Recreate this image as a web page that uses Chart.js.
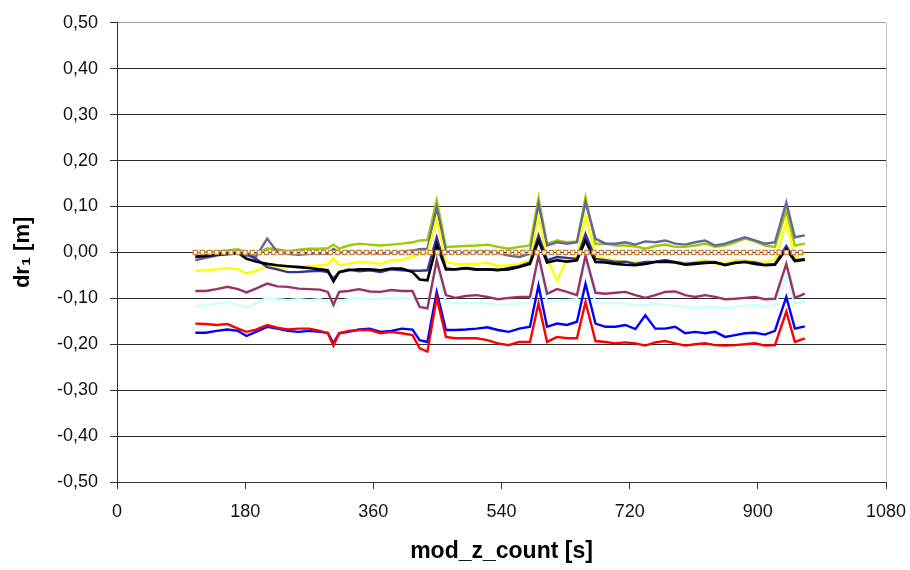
<!DOCTYPE html>
<html>
<head>
<meta charset="utf-8">
<title>dr1</title>
<script src="https://cdn.jsdelivr.net/npm/chart.js@4.4.1/dist/chart.umd.min.js"></script>
<style>
    body { margin: 0; background: #ffffff; }
    #wrap { width: 910px; height: 570px; }
</style>
</head>
<body>
<div id="wrap"><canvas id="myChart" width="910" height="570"></canvas></div>
<script>
const ctx = document.getElementById('myChart');

// time stamps [s]
const times = [110, 125, 140, 155, 170, 182, 195, 211, 225, 240, 255, 270, 285, 296, 304, 312, 325,
    340, 355, 370, 385, 400, 415, 425, 436, 449, 462, 475, 490, 505, 520, 535,
    550, 565, 580, 592, 604, 618, 632, 646, 658, 672, 686, 700, 714, 728, 742,
    756, 770, 784, 798, 812, 826, 840, 854, 868, 882, 896, 910, 924, 940, 952, 966];

const redVals = [-0.155, -0.156, -0.158, -0.156, -0.166, -0.173, -0.168, -0.158, -0.164, -0.168, -0.166, -0.166, -0.171, -0.176, -0.203, -0.176, -0.171,
    -0.169, -0.169, -0.176, -0.173, -0.176, -0.180, -0.209, -0.216, -0.099, -0.184, -0.187, -0.187, -0.187, -0.191, -0.198,
    -0.202, -0.195, -0.195, -0.111, -0.195, -0.184, -0.187, -0.187, -0.108, -0.193, -0.195, -0.198, -0.196, -0.198, -0.203,
    -0.196, -0.193, -0.198, -0.203, -0.200, -0.198, -0.202, -0.203, -0.202, -0.200, -0.198, -0.203, -0.202, -0.129, -0.195, -0.187];

const blueVals = [-0.175, -0.175, -0.171, -0.168, -0.171, -0.182, -0.173, -0.162, -0.166, -0.171, -0.173, -0.171, -0.173, -0.175, -0.198, -0.176, -0.173,
    -0.168, -0.166, -0.173, -0.171, -0.166, -0.168, -0.191, -0.195, -0.086, -0.169, -0.169, -0.168, -0.166, -0.163, -0.169,
    -0.173, -0.166, -0.162, -0.072, -0.162, -0.155, -0.158, -0.151, -0.068, -0.155, -0.162, -0.162, -0.158, -0.167, -0.137,
    -0.166, -0.166, -0.162, -0.176, -0.173, -0.176, -0.173, -0.184, -0.180, -0.176, -0.175, -0.179, -0.171, -0.097, -0.166, -0.161];

const cyanVals = [-0.119, -0.115, -0.111, -0.108, -0.115, -0.120, -0.111, -0.099, -0.102, -0.104, -0.102, -0.104, -0.102, -0.108, -0.121, -0.106, -0.102,
    -0.099, -0.102, -0.101, -0.099, -0.099, -0.101, -0.111, -0.115, -0.035, -0.108, -0.111, -0.111, -0.110, -0.111, -0.114,
    -0.114, -0.111, -0.110, -0.020, -0.108, -0.104, -0.104, -0.102, -0.020, -0.110, -0.111, -0.111, -0.111, -0.115, -0.115,
    -0.111, -0.115, -0.116, -0.119, -0.121, -0.119, -0.119, -0.122, -0.119, -0.116, -0.115, -0.119, -0.115, -0.050, -0.111, -0.106];

const maroonVals = [-0.084, -0.084, -0.080, -0.075, -0.080, -0.087, -0.079, -0.068, -0.074, -0.075, -0.079, -0.080, -0.081, -0.086, -0.114, -0.086, -0.084,
    -0.080, -0.085, -0.086, -0.082, -0.084, -0.084, -0.119, -0.122, -0.017, -0.093, -0.099, -0.095, -0.093, -0.097, -0.102,
    -0.099, -0.097, -0.097, -0.007, -0.090, -0.080, -0.086, -0.093, -0.007, -0.088, -0.090, -0.088, -0.086, -0.093, -0.099,
    -0.093, -0.086, -0.085, -0.093, -0.097, -0.093, -0.097, -0.102, -0.101, -0.099, -0.097, -0.102, -0.101, -0.025, -0.099, -0.090];

const yellowVals = [-0.040, -0.039, -0.037, -0.034, -0.037, -0.046, -0.040, -0.030, -0.034, -0.032, -0.030, -0.030, -0.028, -0.027, -0.012, -0.028, -0.025,
    -0.021, -0.022, -0.025, -0.017, -0.016, -0.010, -0.003, -0.003, 0.073, -0.021, -0.025, -0.025, -0.025, -0.022, -0.030,
    -0.028, -0.025, -0.017, 0.077, -0.014, -0.061, -0.014, -0.010, 0.080, -0.007, -0.014, -0.017, -0.021, -0.020, -0.022,
    -0.021, -0.017, -0.021, -0.022, -0.021, -0.017, -0.025, -0.023, -0.017, -0.017, -0.021, -0.020, -0.017, 0.066, -0.010, -0.003];

const blackVals = [-0.009, -0.007, -0.005, -0.003, -0.001, -0.014, -0.020, -0.025, -0.028, -0.030, -0.032, -0.034, -0.037, -0.039, -0.063, -0.043, -0.039,
    -0.037, -0.037, -0.039, -0.035, -0.035, -0.043, -0.059, -0.061, 0.017, -0.037, -0.037, -0.034, -0.037, -0.037, -0.038,
    -0.037, -0.032, -0.025, 0.026, -0.022, -0.017, -0.020, -0.017, 0.026, -0.021, -0.022, -0.025, -0.027, -0.028, -0.025,
    -0.021, -0.020, -0.022, -0.027, -0.025, -0.023, -0.022, -0.027, -0.023, -0.021, -0.025, -0.028, -0.027, 0.007, -0.019, -0.016];

const navyVals = [-0.010, -0.009, -0.005, -0.004, -0.002, -0.003, -0.014, -0.032, -0.037, -0.043, -0.043, -0.041, -0.040, -0.043, -0.057, -0.043, -0.037,
    -0.041, -0.039, -0.043, -0.037, -0.039, -0.040, -0.040, -0.039, 0.033, -0.035, -0.037, -0.035, -0.038, -0.037, -0.039,
    -0.034, -0.030, -0.022, 0.037, -0.017, -0.010, -0.012, -0.014, 0.040, -0.014, -0.017, -0.021, -0.020, -0.025, -0.021,
    -0.020, -0.017, -0.021, -0.025, -0.023, -0.021, -0.021, -0.028, -0.022, -0.020, -0.022, -0.027, -0.025, 0.014, -0.017, -0.014];

const slateVals = [-0.017, -0.012, -0.007, -0.003, 0.001, -0.007, -0.010, 0.030, 0.001, -0.003, -0.005, -0.003, -0.003, -0.003, 0.008, -0.001, 0.002,
    -0.001, -0.001, -0.003, -0.001, 0.001, 0.004, 0.007, 0.008, 0.098, 0.002, 0.001, -0.001, 0.001, 0.002, -0.001,
    -0.007, -0.010, -0.003, 0.106, 0.015, 0.022, 0.019, 0.022, 0.109, 0.030, 0.019, 0.019, 0.022, 0.017, 0.024,
    0.022, 0.026, 0.019, 0.017, 0.022, 0.026, 0.015, 0.019, 0.026, 0.033, 0.026, 0.019, 0.022, 0.109, 0.033, 0.037];

const greenVals = [-0.001, 0.001, 0.002, 0.004, 0.007, -0.001, -0.005, 0.009, 0.007, 0.002, 0.006, 0.008, 0.008, 0.009, 0.017, 0.008, 0.015,
    0.019, 0.017, 0.015, 0.017, 0.019, 0.022, 0.026, 0.027, 0.113, 0.012, 0.013, 0.014, 0.015, 0.017, 0.012,
    0.008, 0.012, 0.015, 0.118, 0.019, 0.026, 0.022, 0.024, 0.120, 0.019, 0.019, 0.015, 0.015, 0.013, 0.008,
    0.014, 0.017, 0.012, 0.012, 0.015, 0.019, 0.012, 0.015, 0.022, 0.030, 0.024, 0.015, 0.012, 0.091, 0.015, 0.019];

// reference line (markers only)
const zeroTimes = [110, 120, 130, 140, 150, 160, 170, 180, 190, 200, 210, 220, 230, 240, 250, 260, 270, 280, 290, 300,
    310, 320, 330, 340, 350, 360, 370, 380, 390, 400, 410, 420, 430, 440, 450, 460, 470, 480, 490, 500,
    510, 520, 530, 540, 550, 560, 570, 580, 590, 600, 610, 620, 630, 640, 650, 660, 670, 680, 690, 700,
    710, 720, 730, 740, 750, 760, 770, 780, 790, 800, 810, 820, 830, 840, 850, 860, 870, 880, 890, 900,
    910, 920, 930, 940, 950, 960];
const zeroVals = [0, 0, 0, 0, 0, 0, 0, 0, 0, 0, 0, 0, 0, 0, 0, 0, 0, 0, 0, 0,
    0, 0, 0, 0, 0, 0, 0, 0, 0, 0, 0, 0, 0, 0, 0, 0, 0, 0, 0, 0,
    0, 0, 0, 0, 0, 0, 0, 0, 0, 0, 0, 0, 0, 0, 0, 0, 0, 0, 0, 0,
    0, 0, 0, 0, 0, 0, 0, 0, 0, 0, 0, 0, 0, 0, 0, 0, 0, 0, 0, 0,
    0, 0, 0, 0, 0, 0];

const xTicks = [0, 180, 360, 540, 720, 900, 1080];
const yTicks = [-0.5, -0.4, -0.3, -0.2, -0.1, 0, 0.1, 0.2, 0.3, 0.4, 0.5];

const font = "'Liberation Sans', Arial, sans-serif";

function toPoints(xs, ys) {
    return xs.map((x, i) => ({ x: x, y: ys[i] }));
}

function series(label, vals, color, width) {
    return {
        label: label,
        data: toPoints(times, vals),
        borderColor: color,
        backgroundColor: color,
        borderWidth: width,
        pointRadius: 0,
        tension: 0
    };
}

function formatComma(value) {
    let v = Math.round(value * 100) / 100;
    return v.toFixed(2).replace('.', ',');
}

// light grey frame on the right side of the plot
const frame = {
    id: 'frame',
    afterDraw(chart) {
        const a = chart.chartArea;
        const c = chart.ctx;
        c.save();
        c.strokeStyle = '#c0c0c0';
        c.lineWidth = 1;
        c.beginPath();
        c.moveTo(a.right + 0.5, a.top);
        c.lineTo(a.right + 0.5, a.bottom);
        c.stroke();
        c.restore();
    }
};

new Chart(ctx, {
    type: 'line',
    data: {
        datasets: [
            {
                label: 'ref',
                data: toPoints(zeroTimes, zeroVals),
                showLine: false,
                pointStyle: 'rect',
                pointRadius: 3,
                pointBorderWidth: 1.3,
                pointBorderColor: '#c8884a',
                pointBackgroundColor: '#ffffff'
            },
            series('red', redVals, '#ff0000', 2.4),
            series('blue', blueVals, '#0000ff', 2.4),
            series('black', blackVals, '#000000', 2.6),
            series('navy', navyVals, '#333399', 2.4),
            series('maroon', maroonVals, '#993366', 2.4),
            series('cyan', cyanVals, '#ccffff', 2.4),
            series('yellow', yellowVals, '#ffff00', 2.4),
            series('slate', slateVals, '#666699', 2.4),
            series('green', greenVals, '#99cc00', 2.4)
        ]
    },
    options: {
        responsive: false,
        animation: false,
        devicePixelRatio: 1,
        layout: {
            padding: { left: 0, top: 18, right: 24, bottom: 0 }
        },
        plugins: {
            legend: { display: false },
            tooltip: { enabled: false }
        },
        scales: {
            x: {
                type: 'linear',
                min: xTicks[0],
                max: xTicks[xTicks.length - 1],
                afterFit: (scale) => {
                    scale.height = 88;
                    scale.paddingLeft = 0;
                    scale.paddingRight = 0;
                },
                afterBuildTicks: (scale) => { scale.ticks = xTicks.map(v => ({ value: v })); },
                ticks: {
                    color: '#111111',
                    padding: 12,
                    maxRotation: 0,
                    font: { family: font, size: 18 },
                    callback: (value) => String(value)
                },
                grid: {
                    drawOnChartArea: false,
                    drawTicks: true,
                    tickLength: 7,
                    tickColor: '#333333'
                },
                border: { color: '#333333', width: 1 },
                title: {
                    display: true,
                    text: 'mod_z_count [s]',
                    color: '#000000',
                    padding: { top: 0, bottom: 5 },
                    font: { family: font, size: 23, weight: 'bold' }
                }
            },
            y: {
                min: yTicks[0],
                max: yTicks[yTicks.length - 1],
                afterFit: (scale) => { scale.width = 117; },
                afterBuildTicks: (scale) => { scale.ticks = yTicks.map(v => ({ value: v })); },
                ticks: {
                    color: '#111111',
                    padding: 12,
                    font: { family: font, size: 18 },
                    callback: (value) => formatComma(value)
                },
                grid: {
                    color: (c) => (c.tick && c.tick.value === 0.5 ? '#a0a0a0' : '#2a2a2a'),
                    lineWidth: 1,
                    tickLength: 7,
                    tickColor: '#333333'
                },
                border: { color: '#333333', width: 1 },
                title: {
                    display: true,
                    text: 'dr\u2081 [m]',
                    color: '#000000',
                    padding: { top: 10, bottom: 0 },
                    font: { family: font, size: 22, weight: 'bold' }
                }
            }
        }
    },
    plugins: [frame]
});
</script>
</body>
</html>
